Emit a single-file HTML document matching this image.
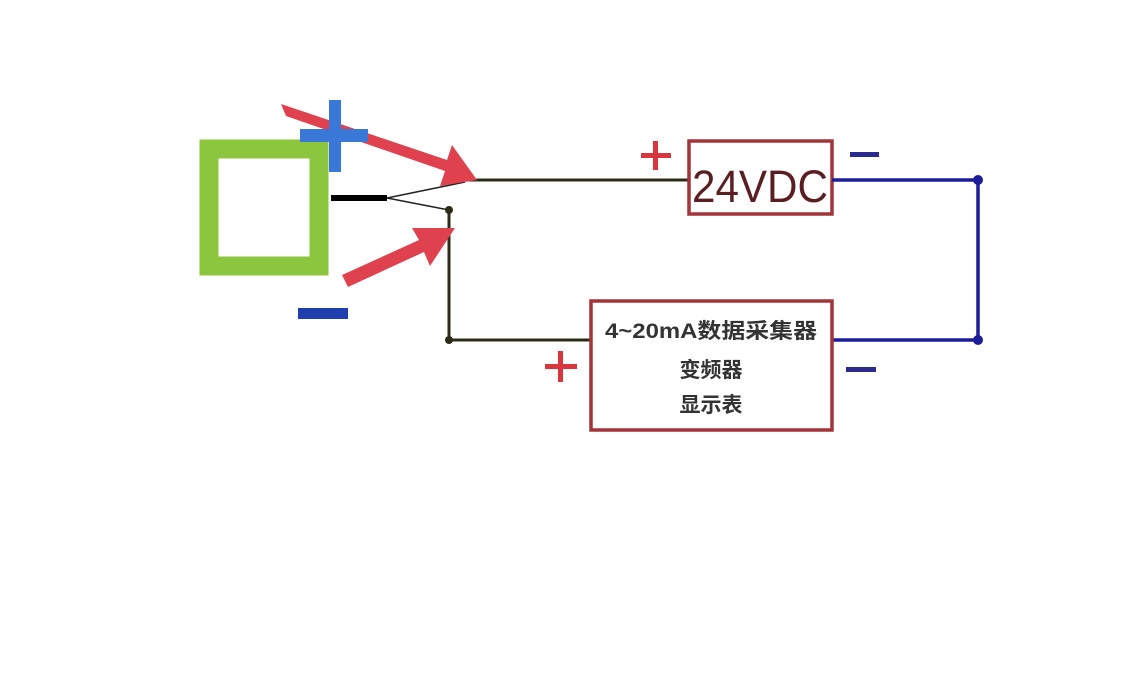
<!DOCTYPE html>
<html><head><meta charset="utf-8"><style>
html,body{margin:0;padding:0;background:#fff;}
svg{display:block;}
</style></head><body>
<svg width="1125" height="688" viewBox="0 0 1125 688" xmlns="http://www.w3.org/2000/svg">
<rect width="1125" height="688" fill="#fff"/>
<!-- green square -->
<rect x="209" y="149" width="110" height="117" fill="none" stroke="#8cc63f" stroke-width="19"/>
<!-- blue minus -->
<rect x="298" y="308" width="50" height="11" fill="#1f3fae"/>
<!-- black stub -->
<line x1="331" y1="198" x2="387" y2="198" stroke="#000" stroke-width="6"/>
<line x1="387" y1="198" x2="465" y2="182" stroke="#222" stroke-width="1.5"/>
<line x1="387" y1="198" x2="449" y2="210" stroke="#222" stroke-width="1.5"/>
<!-- dark wires -->
<g stroke="#2b2b18" stroke-width="3" fill="none">
<line x1="463" y1="180" x2="688" y2="180"/>
<polyline points="449,210 449,340 590,340"/>
</g>
<circle cx="449" cy="210" r="4" fill="#2b2b18"/>
<circle cx="449" cy="340" r="4" fill="#2b2b18"/>
<!-- red arrows -->
<g fill="#e0414f">
<polygon points="281,104 286,116 445,171 440,186 477,180 452,145 447,160"/>
<polygon points="342,275 348,287 424,252 430,266 455,228 412,228 419,240"/>
</g>
<!-- blue plus (on top) -->
<rect x="300" y="129" width="68" height="13" fill="#3a78d8"/>
<rect x="329" y="100" width="12" height="72" fill="#3a78d8"/>
<!-- 24VDC box -->
<rect x="689" y="141" width="143" height="73" fill="#fff" stroke="#a3353a" stroke-width="3.5"/>
<text x="760" y="202" text-anchor="middle" font-family="Liberation Sans, sans-serif" font-size="45" fill="#5a1e22" textLength="136" lengthAdjust="spacingAndGlyphs">24VDC</text>
<!-- red pluses -->
<g fill="#d8353f">
<rect x="641" y="153" width="30" height="5"/><rect x="653" y="141" width="5" height="29"/>
<rect x="545" y="364" width="32" height="5"/><rect x="558" y="351" width="5" height="31"/>
</g>
<!-- blue minuses -->
<rect x="850" y="152" width="29" height="5" fill="#2a2a8f"/>
<rect x="846" y="367" width="30" height="5" fill="#2a2a8f"/>
<!-- blue wires -->
<g stroke="#1d1d9a" stroke-width="3.5" fill="none">
<line x1="832" y1="180" x2="978" y2="180"/>
<line x1="978" y1="180" x2="978" y2="340"/>
<line x1="832" y1="340" x2="978" y2="340"/>
</g>
<circle cx="978" cy="180" r="5" fill="#1d1d9a"/>
<circle cx="978" cy="340" r="5" fill="#1d1d9a"/>
<!-- bottom box -->
<rect x="591" y="301" width="241" height="129" fill="#fff" stroke="#a3353a" stroke-width="3.5"/>
<g font-family="Liberation Sans, 'Noto Sans CJK SC', sans-serif" font-size="21" font-weight="bold" fill="#333" text-anchor="middle">
<text x="711" y="338" textLength="212" lengthAdjust="spacingAndGlyphs">4~20mA数据采集器</text>
<text x="711" y="377">变频器</text>
<text x="711" y="412">显示表</text>
</g>
</svg>
</body></html>
